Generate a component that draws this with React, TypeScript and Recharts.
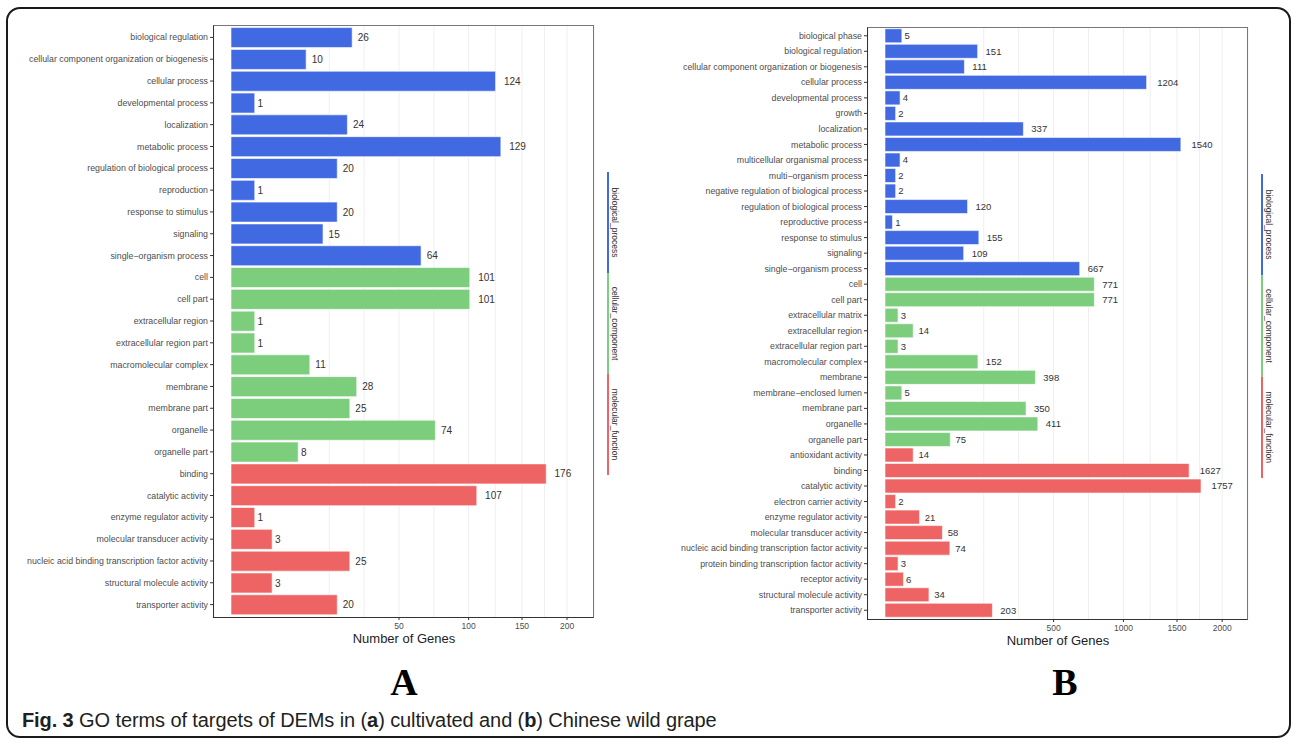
import React from "react";
import { BarChart, Bar, XAxis, YAxis, CartesianGrid, Cell, LabelList } from "recharts";

// panel A – cultivated grape
const bpTermsA = [
    "biological regulation",
    "cellular component organization or biogenesis",
    "cellular process",
    "developmental process",
    "localization",
    "metabolic process",
    "regulation of biological process",
    "reproduction",
    "response to stimulus",
    "signaling",
    "single−organism process",
];
const bpCountsA = [26, 10, 124, 1, 24, 129, 20, 1, 20, 15, 64];
const ccTermsA = [
    "cell",
    "cell part",
    "extracellular region",
    "extracellular region part",
    "macromolecular complex",
    "membrane",
    "membrane part",
    "organelle",
    "organelle part",
];
const ccCountsA = [101, 101, 1, 1, 11, 28, 25, 74, 8];
const mfTermsA = [
    "binding",
    "catalytic activity",
    "enzyme regulator activity",
    "molecular transducer activity",
    "nucleic acid binding transcription factor activity",
    "structural molecule activity",
    "transporter activity",
];
const mfCountsA = [176, 107, 1, 3, 25, 3, 20];

// panel B – Chinese wild grape
const bpTermsB = [
    "biological phase",
    "biological regulation",
    "cellular component organization or biogenesis",
    "cellular process",
    "developmental process",
    "growth",
    "localization",
    "metabolic process",
    "multicellular organismal process",
    "multi−organism process",
    "negative regulation of biological process",
    "regulation of biological process",
    "reproductive process",
    "response to stimulus",
    "signaling",
    "single−organism process",
];
const bpCountsB = [5, 151, 111, 1204, 4, 2, 337, 1540, 4, 2, 2, 120, 1, 155, 109, 667];
const ccTermsB = [
    "cell",
    "cell part",
    "extracellular matrix",
    "extracellular region",
    "extracellular region part",
    "macromolecular complex",
    "membrane",
    "membrane−enclosed lumen",
    "membrane part",
    "organelle",
    "organelle part",
];
const ccCountsB = [771, 771, 3, 14, 3, 152, 398, 5, 350, 411, 75];
const mfTermsB = [
    "antioxidant activity",
    "binding",
    "catalytic activity",
    "electron carrier activity",
    "enzyme regulator activity",
    "molecular transducer activity",
    "nucleic acid binding transcription factor activity",
    "protein binding transcription factor activity",
    "receptor activity",
    "structural molecule activity",
    "transporter activity",
];
const mfCountsB = [14, 1627, 1757, 2, 21, 58, 74, 3, 6, 34, 203];

const groupNames = ["biological_process", "cellular_component", "molecular_function"];
const groupColors = ["#4169E1", "#7CCD7C", "#EE6363"];

// grid positions (sqrt scale, ggplot style minor breaks) and labelled ticks
const gridTicksA = [17.1, 31.4, 50, 72.9, 100, 123.7, 150, 174.1, 200];
const tickLabelsA = [50, 100, 150, 200];
const gridTicksB = [171.6, 314.3, 500, 728.6, 1000, 1237.4, 1500, 1741.2, 2000];
const tickLabelsB = [500, 1000, 1500, 2000];

const FONT = "'Liberation Sans', Arial, Helvetica, sans-serif";

type Row = { term: string; count: number; group: number };

function buildRows(groups: [string[], number[]][]): Row[] {
    const rows: Row[] = [];
    groups.forEach(([terms, counts], g) => {
        terms.forEach((t, i) => rows.push({ term: t, count: counts[i], group: g }));
    });
    return rows;
}

const rowsA = buildRows([
    [bpTermsA, bpCountsA],
    [ccTermsA, ccCountsA],
    [mfTermsA, mfCountsA],
]);
const rowsB = buildRows([
    [bpTermsB, bpCountsB],
    [ccTermsB, ccCountsB],
    [mfTermsB, mfCountsB],
]);

const TICK_SIZE = 3;
const TICK_MARGIN = 3;

function makeXTick(labels: number[]) {
    return (props: any) => {
        const { x, y, payload } = props;
        if (!labels.includes(payload.value)) return <g />;
        return (
            <g>
                <line x1={x} x2={x} y1={y - TICK_SIZE - TICK_MARGIN} y2={y - TICK_MARGIN} stroke="#333" strokeWidth={1} />
                <text x={x} y={y} dy="0.71em" textAnchor="middle" fontSize={8.5} fill="#4d4d4d">
                    {payload.value}
                </text>
            </g>
        );
    };
}

// single-line category labels (no wrapping)
const YTick = (props: any) => {
    const { x, y, payload } = props;
    return (
        <text x={x} y={y} dy="0.35em" textAnchor="end" fontSize={8.8} fill="#4d4d4d">
            {payload.value}
        </text>
    );
};

function makeValueLabel(fontSize: number) {
    return (props: any) => {
        const { x, y, width, height, value } = props;
        const w = String(value).length * fontSize * 0.556; // hjust = -0.5
        return (
            <text x={x + width + w * 0.5} y={y + height / 2} dy="0.36em" fontSize={fontSize} fill="#333">
                {value}
            </text>
        );
    };
}

type PanelProps = {
    rows: Row[];
    left: number;
    width: number;
    height: number;
    margin: { top: number; right: number; bottom: number; left: number };
    yWidth: number;
    xHeight: number;
    domain: [number, number];
    gridTicks: number[];
    tickLabels: number[];
    labelSize: number;
    padding: number;
};

function Panel(p: PanelProps) {
    const plotLeft = p.margin.left + p.yWidth;
    const plotTop = p.margin.top;
    const plotW = p.width - plotLeft - p.margin.right;
    const plotH = p.height - p.margin.top - p.margin.bottom - p.xHeight;
    return (
        <div style={{ position: "absolute", left: p.left, top: 0, width: p.width, height: p.height }}>
            <BarChart
                width={p.width}
                height={p.height}
                data={p.rows}
                layout="vertical"
                margin={p.margin}
                barCategoryGap="5%"
            >
                <CartesianGrid horizontal={false} stroke="#EFEFEF" />
                <XAxis
                    type="number"
                    scale="sqrt"
                    domain={p.domain}
                    ticks={p.gridTicks}
                    interval={0}
                    height={p.xHeight}
                    axisLine={false}
                    tickLine={false}
                    tickSize={TICK_SIZE}
                    tickMargin={TICK_MARGIN}
                    tick={makeXTick(p.tickLabels)}
                    label={{ value: "Number of Genes", position: "insideBottom", offset: 14, fontSize: 13, fill: "#222" }}
                />
                <YAxis
                    type="category"
                    dataKey="term"
                    width={p.yWidth}
                    interval={0}
                    axisLine={false}
                    tickSize={4}
                    tickMargin={2}
                    tickLine={{ stroke: "#333" }}
                    padding={{ top: p.padding, bottom: p.padding }}
                    tick={<YTick />}
                />
                <Bar dataKey="count" isAnimationActive={false} stroke="#ffffff" strokeWidth={0.6}>
                    {p.rows.map((r, i) => (
                        <Cell key={i} fill={groupColors[r.group]} />
                    ))}
                    <LabelList dataKey="count" content={makeValueLabel(p.labelSize)} />
                </Bar>
            </BarChart>
            <div
                style={{
                    position: "absolute",
                    left: plotLeft - 1,
                    top: plotTop,
                    width: plotW + 1,
                    height: plotH + 1,
                    boxSizing: "border-box",
                    borderTop: "1px solid #777",
                    borderRight: "1px solid #777",
                    borderLeft: "1.5px solid #333",
                    borderBottom: "1.5px solid #333",
                    pointerEvents: "none",
                }}
            />
        </div>
    );
}

function GroupStrip({ x, top, seg }: { x: number; top: number; seg: number }) {
    return (
        <svg style={{ position: "absolute", left: x - 4, top: top, overflow: "visible" }} width={20} height={seg * 3}>
            {groupNames.map((g, i) => (
                <g key={g}>
                    <line x1={4} x2={4} y1={i * seg} y2={(i + 1) * seg} stroke={groupColors[i]} strokeWidth={2} />
                    <text
                        x={7.5}
                        y={i * seg + seg / 2}
                        textAnchor="middle"
                        fontSize={8.5}
                        fill="#333"
                        transform={`rotate(90, 7.5, ${i * seg + seg / 2})`}
                    >
                        {g}
                    </text>
                </g>
            ))}
        </svg>
    );
}

export default function App() {
    return (
        <div
            style={{
                position: "absolute",
                left: 0,
                top: 0,
                width: 1292,
                height: 743,
                background: "#fff",
                fontFamily: FONT,
                overflow: "hidden",
            }}
        >
            <div
                style={{
                    position: "absolute",
                    left: 6,
                    top: 7,
                    width: 1285,
                    height: 731,
                    boxSizing: "border-box",
                    border: "2px solid #1a1a1a",
                    borderRadius: 14,
                }}
            />
            <Panel
                rows={rowsA}
                left={0}
                width={600}
                height={660}
                margin={{ top: 25, right: 6, bottom: 3, left: 0 }}
                yWidth={214}
                xHeight={40}
                domain={[-0.512, 233.4]}
                gridTicks={gridTicksA}
                tickLabels={tickLabelsA}
                labelSize={10}
                padding={1.5}
            />
            <GroupStrip x={607.7} top={172} seg={101} />
            <Panel
                rows={rowsB}
                left={660}
                width={600}
                height={660}
                margin={{ top: 27, right: 12, bottom: 1, left: 0 }}
                yWidth={208}
                xHeight={40}
                domain={[-5.08, 2318]}
                gridTicks={gridTicksB}
                tickLabels={tickLabelsB}
                labelSize={9.5}
                padding={1}
            />
            <GroupStrip x={1261.7} top={174} seg={101.3} />
            <div
                style={{
                    position: "absolute",
                    left: 344,
                    top: 660,
                    width: 120,
                    textAlign: "center",
                    fontFamily: "'Liberation Serif', 'DejaVu Serif', serif",
                    fontWeight: "bold",
                    fontSize: 38,
                    lineHeight: "44px",
                }}
            >
                A
            </div>
            <div
                style={{
                    position: "absolute",
                    left: 1005,
                    top: 660,
                    width: 120,
                    textAlign: "center",
                    fontFamily: "'Liberation Serif', 'DejaVu Serif', serif",
                    fontWeight: "bold",
                    fontSize: 38,
                    lineHeight: "44px",
                }}
            >
                B
            </div>
            <div
                style={{
                    position: "absolute",
                    left: 22,
                    top: 708,
                    fontSize: 20,
                    lineHeight: "24px",
                    color: "#231f20",
                    whiteSpace: "nowrap",
                    letterSpacing: "-0.1px",
                }}
            >
                <b>Fig. 3</b> GO terms of targets of DEMs in (<b>a</b>) cultivated and (<b>b</b>) Chinese wild grape
            </div>
        </div>
    );
}
